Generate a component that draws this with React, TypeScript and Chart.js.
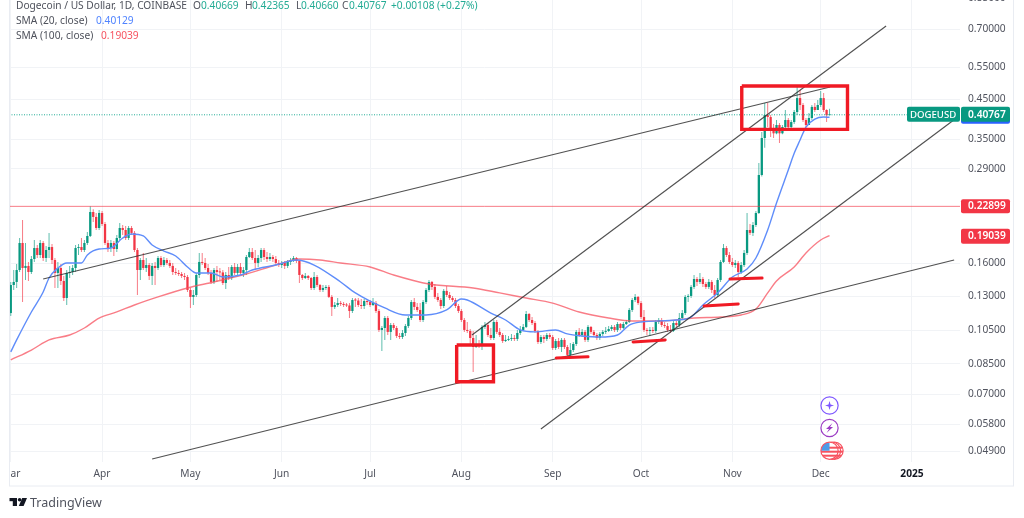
import React, { useEffect, useRef } from "react";
import { Chart, registerables } from "chart.js";

Chart.register(...registerables);

const FONT = '"Noto Sans", sans-serif';
const UP = "#089981";
const DOWN = "#f23645";
const UP_WICK = "rgba(8,153,129,0.65)";
const DOWN_WICK = "rgba(242,54,69,0.65)";

const firstOpen = 0.1169;
const closes = [
  0.1395,0.1422,0.1533,0.1818,0.1553,0.1573,0.1514,0.1643,0.1761,0.1685,
  0.1818,0.1654,0.1739,0.1772,0.1633,0.1505,0.1553,0.1431,0.1285,0.1505,
  0.1514,0.1553,0.1761,0.1772,0.1739,0.1818,0.19,0.221,0.2142,0.1998,
  0.2196,0.2049,0.1818,0.1761,0.1818,0.175,0.1876,0.1998,0.1973,0.1876,
  0.1998,0.1937,0.1739,0.1533,0.1633,0.1553,0.1582,0.1477,0.1573,0.1553,
  0.1654,0.1582,0.1633,0.1603,0.1573,0.1514,0.1505,0.1495,0.1477,0.1467,
  0.1352,0.1294,0.131,0.1486,0.1613,0.1603,0.1553,0.1505,0.1422,0.1533,
  0.1514,0.151,0.1413,0.1486,0.1458,0.1563,0.1505,0.1563,0.1505,0.1533,
  0.1664,0.1717,0.1654,0.1603,0.1654,0.1739,0.1664,0.1643,0.1664,0.1643,
  0.1603,0.1582,0.1603,0.1573,0.1613,0.1633,0.1654,0.1623,0.1486,0.1458,
  0.1477,0.1458,0.1369,0.1467,0.1395,0.1352,0.1369,0.1378,0.1294,0.1215,
  0.123,0.1245,0.1238,0.123,0.1226,0.1184,0.1269,0.1265,0.123,0.1222,
  0.1261,0.1253,0.123,0.1245,0.1184,0.1051,0.1064,0.1133,0.1038,0.1084,
  0.1064,0.1012,0.1005,0.1031,0.1077,0.1133,0.1253,0.1215,0.1192,0.1119,
  0.1253,0.1352,0.1422,0.1378,0.1294,0.1269,0.1222,0.1344,0.131,0.1285,
  0.1269,0.1222,0.1184,0.1119,0.1051,0.1044,0.0999,0.0944,0.0956,0.095,
  0.1071,0.1084,0.1018,0.0999,0.1105,0.1038,0.1018,0.098,0.0987,0.0993,
  0.0999,0.0993,0.1031,0.1051,0.1071,0.1162,0.1119,0.1098,0.1044,0.0974,
  0.1005,0.0993,0.1018,0.1005,0.0938,0.098,0.0944,0.0987,0.0944,0.0898,
  0.0926,0.0962,0.1038,0.1018,0.1038,0.0987,0.1071,0.1038,0.1018,0.0999,
  0.1025,0.1038,0.1044,0.1057,0.1071,0.1051,0.1091,0.1064,0.1091,0.1105,
  0.1192,0.1269,0.1294,0.1245,0.114,0.1051,0.1044,0.1051,0.1044,0.1105,
  0.1119,0.1084,0.1077,0.1051,0.1044,0.1098,0.1084,0.1133,0.1169,0.1294,
  0.1302,0.1378,0.1449,0.1422,0.1449,0.1404,0.1378,0.1422,0.1352,0.131,
  0.144,0.1613,0.1761,0.1685,0.1613,0.1582,0.1603,0.1514,0.1582,0.1707,
  0.1973,0.1937,0.2036,0.2196,0.279,0.3522,0.4071,0.402,0.3704,0.3628,
  0.3823,0.3628,0.3775,0.3945,0.3775,0.3895,0.415,0.453,0.4337,0.3945,
  0.3823,0.3995,0.4285,0.4202,0.4337,0.453,0.4202,0.40669,0.40767,
];
const highs = [
  0.1422,0.1533,0.1593,0.1876,0.2101,0.1818,0.1613,0.1675,0.1852,0.1795,
  0.1852,0.1841,0.1784,0.1937,0.1806,0.1654,0.1613,0.1593,0.1477,0.1533,
  0.1573,0.1582,0.1795,0.1806,0.1876,0.1852,0.1949,0.229,0.225,0.2196,
  0.2238,0.2224,0.2075,0.1852,0.1852,0.1841,0.1912,0.2062,0.2036,0.2023,
  0.2023,0.2023,0.1961,0.1761,0.1654,0.1707,0.1654,0.1603,0.1603,0.1613,
  0.1675,0.1675,0.1664,0.1654,0.1633,0.1603,0.1553,0.1533,0.1514,0.1505,
  0.1486,0.1369,0.1352,0.1505,0.1707,0.1707,0.1654,0.1593,0.1533,0.1553,
  0.1573,0.1553,0.1533,0.1514,0.1563,0.1582,0.1603,0.1593,0.1603,0.1563,
  0.1685,0.1761,0.1761,0.1739,0.1685,0.1761,0.1761,0.1717,0.1707,0.1685,
  0.1675,0.1633,0.1623,0.1623,0.1633,0.1654,0.1675,0.1664,0.1633,0.1495,
  0.1505,0.1486,0.1467,0.1514,0.1486,0.1404,0.1395,0.1395,0.1395,0.131,
  0.1253,0.1285,0.1261,0.1253,0.1245,0.1245,0.1285,0.1285,0.1285,0.1277,
  0.1277,0.1277,0.1269,0.1285,0.1261,0.1199,0.1077,0.1147,0.1147,0.1098,
  0.1098,0.1077,0.1031,0.1051,0.1091,0.1147,0.1269,0.1285,0.1245,0.1245,
  0.1269,0.1369,0.144,0.1431,0.1404,0.1327,0.1285,0.1361,0.1387,0.1335,
  0.1302,0.1285,0.1238,0.1199,0.1133,0.1105,0.1057,0.1044,0.1018,0.0987,
  0.1084,0.1105,0.1098,0.1064,0.1119,0.1119,0.1064,0.1031,0.1018,0.1012,
  0.1025,0.1018,0.1051,0.1077,0.1091,0.1184,0.1169,0.114,0.1112,0.1051,
  0.1018,0.1018,0.1031,0.1031,0.1018,0.0993,0.0999,0.0999,0.0999,0.0956,
  0.0968,0.0974,0.1051,0.1064,0.1057,0.1051,0.1084,0.1077,0.1051,0.1031,
  0.1038,0.1051,0.1071,0.1077,0.1084,0.1084,0.1105,0.1098,0.1105,0.1119,
  0.1207,0.1285,0.1318,0.1302,0.1261,0.1192,0.1064,0.1071,0.1071,0.1119,
  0.1133,0.1133,0.1105,0.1098,0.1084,0.1112,0.1112,0.1169,0.1192,0.131,
  0.1318,0.1395,0.1486,0.1467,0.1505,0.1467,0.1422,0.1449,0.144,0.1395,
  0.1458,0.1633,0.1806,0.1784,0.1717,0.1654,0.1633,0.1623,0.1613,0.1739,
  0.2196,0.2049,0.2075,0.2224,0.3008,0.366,0.439,0.439,0.4071,0.3847,
  0.3945,0.387,0.3823,0.4202,0.3995,0.3945,0.4202,0.4858,0.4766,0.439,
  0.3995,0.4122,0.4337,0.439,0.4475,0.474,0.468,0.4222,0.42365,
];
const lows = [
  0.1147,0.1352,0.1369,0.1514,0.1253,0.144,0.1431,0.1495,0.1613,0.1654,
  0.1654,0.1623,0.1613,0.1654,0.1593,0.1369,0.1369,0.1395,0.1261,0.123,
  0.1458,0.1486,0.1514,0.1685,0.1717,0.1717,0.1795,0.1888,0.2075,0.1973,
  0.1973,0.2023,0.1795,0.1717,0.1717,0.1675,0.1717,0.1852,0.1912,0.1852,
  0.1852,0.1912,0.1717,0.131,0.144,0.1533,0.1514,0.144,0.1395,0.1395,
  0.1533,0.1563,0.1563,0.1582,0.1553,0.1486,0.1486,0.1477,0.1458,0.144,
  0.1335,0.1207,0.123,0.1294,0.1458,0.1582,0.1533,0.1486,0.1404,0.1404,
  0.1422,0.144,0.1395,0.1361,0.144,0.144,0.1486,0.1486,0.1486,0.1467,
  0.1486,0.1654,0.1633,0.1533,0.1563,0.1613,0.1633,0.1613,0.1623,0.1613,
  0.1582,0.1563,0.1553,0.1543,0.1553,0.1582,0.1613,0.1603,0.1413,0.144,
  0.1449,0.144,0.1352,0.1352,0.1378,0.1335,0.1335,0.1352,0.1285,0.1147,
  0.1199,0.1215,0.1222,0.1215,0.1215,0.1133,0.1169,0.1215,0.1215,0.1199,
  0.1199,0.123,0.1215,0.1222,0.1169,0.1038,0.092,0.0987,0.1018,0.0987,
  0.1051,0.0999,0.0993,0.0993,0.1012,0.1064,0.1119,0.1192,0.1177,0.1105,
  0.1105,0.1238,0.1335,0.1352,0.1277,0.1253,0.1199,0.1207,0.1294,0.1269,
  0.1253,0.1207,0.1169,0.1105,0.1038,0.1031,0.0956,0.0806,0.0938,0.0938,
  0.0926,0.1057,0.1005,0.0987,0.0987,0.1025,0.1005,0.0968,0.0974,0.098,
  0.098,0.098,0.098,0.1018,0.1044,0.1064,0.1105,0.1084,0.1031,0.0962,
  0.0962,0.0968,0.098,0.0993,0.0926,0.0926,0.0932,0.0915,0.0932,0.0892,
  0.0887,0.0915,0.095,0.1005,0.1005,0.0974,0.0974,0.1025,0.1005,0.0987,
  0.0987,0.1012,0.1025,0.1038,0.1044,0.1038,0.1038,0.1051,0.1057,0.1084,
  0.1098,0.1177,0.1253,0.123,0.1126,0.1038,0.1018,0.1012,0.1031,0.1031,
  0.1091,0.1071,0.1064,0.1038,0.1031,0.1038,0.1071,0.1071,0.1119,0.1155,
  0.1253,0.1285,0.1361,0.1387,0.1404,0.1378,0.1361,0.1361,0.1327,0.1285,
  0.1294,0.1422,0.1603,0.1664,0.1593,0.1563,0.1553,0.1467,0.1495,0.1563,
  0.1685,0.1912,0.19,0.2011,0.2183,0.2762,0.331,0.3775,0.3545,0.3522,
  0.3608,0.3412,0.3608,0.373,0.3752,0.3752,0.3847,0.4071,0.4202,0.3895,
  0.3775,0.3823,0.3945,0.415,0.4202,0.4285,0.415,0.3895,0.4066,
];

const sma20Days = [0,2,7,11,13,16,19,24,26,30,34,38,41,45,48,52,56,60,63,68,72,78,82,90,97,103,112,117,127,134,141,148,153,155,163,168,173,178,185,189,194,200,206,210,214,226,231,235,240,245,250,253,257,260,264,266,268,270,273,276,278];
const sma20Values = [0.0915,0.0987,0.1177,0.1335,0.1458,0.1553,0.1603,0.1603,0.1685,0.175,0.1761,0.1876,0.1924,0.19,0.1795,0.1728,0.1675,0.1563,0.1505,0.1505,0.1467,0.1486,0.1533,0.1582,0.1633,0.1582,0.1422,0.1327,0.1207,0.1155,0.1155,0.1192,0.1277,0.1269,0.1169,0.1119,0.1051,0.1038,0.1051,0.1025,0.1012,0.1005,0.1018,0.1084,0.1105,0.1119,0.114,0.123,0.1327,0.1467,0.1543,0.1654,0.1973,0.2339,0.2879,0.3198,0.3478,0.3775,0.397,0.402,0.40129];
const sma100Days = [0,7,13,20,25,30,36,42,50,60,69,80,90,98,105,112,122,130,142,157,166,175,184,193,203,211,221,232,241,248,253,257,260,266,270,275,278];
const sma100Values = [0.087,0.0926,0.0987,0.1018,0.1064,0.1133,0.1177,0.123,0.1294,0.1369,0.1422,0.1495,0.1582,0.1643,0.1633,0.1603,0.1563,0.1486,0.1404,0.1369,0.1327,0.1285,0.1245,0.1177,0.1133,0.1112,0.1112,0.1133,0.114,0.1155,0.1199,0.1327,0.1431,0.1563,0.1707,0.1852,0.19039];

const trendLines = [
  { days: [11, 278.2], prices: [0.1449, 0.4858] },
  { days: [156.6, 297.2], prices: [0.1018, 0.7134] },
  { days: [180, 322], prices: [0.0563, 0.4046] },
  { days: [48, 320.3], prices: [0.0466, 0.1633] },
];
const markBoxes = [
  { days: [151.4, 163.9], prices: [0.0956, 0.0758] },
  { days: [248.2, 284.1], prices: [0.4887, 0.372] },
];
const markDashes = [
  { days: [185.2, 196], prices: [0.0881, 0.0887] },
  { days: [211.3, 222.2], prices: [0.0974, 0.0987] },
  { days: [235.4, 247], prices: [0.1222, 0.1238] },
  { days: [244.2, 255.1], prices: [0.1449, 0.1458] },
];

const priceTicks = [0.7, 0.55, 0.45, 0.35, 0.29, 0.16, 0.13, 0.105, 0.085, 0.07, 0.058, 0.049];
const clippedTick = 0.85;
const monthDays = [0, 31, 61, 92, 122, 153, 184, 214, 245, 275, 306];
const monthLabels = ["Mar", "Apr", "May", "Jun", "Jul", "Aug", "Sep", "Oct", "Nov", "Dec", "2025"];
const lastPrice = 0.40767;
const sma20Last = 0.40129;
const sma100Last = 0.19039;
const levelPrice = 0.22899;
const DAY_MIN = -0.6;
const DAY_MAX = 322.3;

const opens = closes.map((_, i) => (i === 0 ? firstOpen : closes[i - 1]));
const isUp = closes.map((c, i) => c >= opens[i]);

const pairLine = (days: number[], prices: number[]) => days.map((d, i) => ({ x: d, y: prices[i] }));
const lineDs = (data: any[], color: string, width: number, order: number, extra: any = {}) => ({
  type: "line" as const,
  data,
  borderColor: color,
  borderWidth: width,
  pointRadius: 0,
  tension: 0,
  order,
  ...extra,
});

const overlay = {
  id: "overlay",
  beforeDraw(chart: any) {
    const c = chart.ctx;
    c.save();
    c.fillStyle = "#fff";
    c.fillRect(0, 0, 1024, 518);
    c.restore();
  },
  afterDraw(chart: any) {
    const c = chart.ctx as CanvasRenderingContext2D;
    const yS = chart.scales.y;
    const xS = chart.scales.x;
    c.save();
    // hide the part of the first month label left of the frame
    c.fillStyle = "#fff";
    c.fillRect(0, 463, 9, 22);
    // frame
    c.strokeStyle = "#e9ecf2";
    c.lineWidth = 1;
    c.strokeRect(9.5, -2, 1004, 488);

    c.textBaseline = "middle";
    const text = (s: string, x: number, y: number, color: string, font = `10.2px ${FONT}`) => {
      c.font = font;
      c.fillStyle = color;
      c.fillText(s, x, y);
    };
    // legend
    const gray = "#4f525c";
    const green = "#22ab94";
    text("Dogecoin / US Dollar, 1D, COINBASE", 16, 6, gray);
    text("O", 193, 6, gray); text("0.40669", 201, 6, green);
    text("H", 245, 6, gray); text("0.42365", 252, 6, green);
    text("L", 296, 6, gray); text("0.40660", 301, 6, green);
    text("C", 342, 6, gray); text("0.40767", 349, 6, green);
    text("+0.00108", 391, 6, green);
    text("(+0.27%)", 437, 6, green);
    text("SMA (20, close)", 16, 21, gray); text(sma20Last.toFixed(5), 96, 21, "#4f83ff");
    text("SMA (100, close)", 16, 36, gray); text(sma100Last.toFixed(5), 101, 36, "#f7525f");

    // clipped top tick
    text(clippedTick.toFixed(5), 968, yS.getPixelForValue(clippedTick), "#50535e");

    // price labels
    const box = (x: number, y: number, w: number, h: number, color: string) => {
      c.fillStyle = color;
      c.beginPath();
      (c as any).roundRect(x, y, w, h, 2);
      c.fill();
    };
    const yLast = yS.getPixelForValue(lastPrice);
    box(961, yLast - 5, 49, 14, "#2962ff");
    box(961, yLast - 8, 49, 15, UP);
    box(907, yLast - 8, 53, 15, UP);
    text("DOGEUSD", 910, yLast, "#fff", `500 9.6px ${FONT}`);
    text(lastPrice.toFixed(5), 968, yLast, "#fff", `600 10.2px ${FONT}`);
    const yLevel = yS.getPixelForValue(levelPrice);
    box(961, yLevel - 7, 49, 14, DOWN);
    text(levelPrice.toFixed(5), 968, yLevel, "#fff", `600 10.2px ${FONT}`);
    const ySma = yS.getPixelForValue(sma100Last);
    box(961, ySma - 7, 49, 15, DOWN);
    text(sma100Last.toFixed(5), 968, ySma, "#fff", `600 10.2px ${FONT}`);

    // event icons
    const ix = xS.getPixelForValue(278);
    c.lineWidth = 1.2;
    c.fillStyle = "#fff";
    c.strokeStyle = "#7e57ff";
    c.beginPath(); c.arc(ix, 405.5, 8.6, 0, Math.PI * 2); c.fill(); c.stroke();
    c.fillStyle = "#7e57ff";
    c.beginPath();
    c.moveTo(ix, 401); c.lineTo(ix + 1, 404.5); c.lineTo(ix + 4.5, 405.5); c.lineTo(ix + 1, 406.5);
    c.lineTo(ix, 410); c.lineTo(ix - 1, 406.5); c.lineTo(ix - 4.5, 405.5); c.lineTo(ix - 1, 404.5);
    c.closePath(); c.fill();
    c.fillStyle = "#fff";
    c.strokeStyle = "#9c3cc4";
    c.beginPath(); c.arc(ix, 428, 8.6, 0, Math.PI * 2); c.fill(); c.stroke();
    c.fillStyle = "#9c3cc4";
    c.beginPath();
    c.moveTo(ix + 3, 423); c.lineTo(ix - 3.5, 429); c.lineTo(ix - 0.5, 429); c.lineTo(ix - 3, 433);
    c.lineTo(ix + 3.5, 427); c.lineTo(ix + 0.5, 427); c.closePath(); c.fill();
    const flag = (cx: number) => {
      const cy = 450.7;
      c.save();
      c.beginPath(); c.arc(cx, cy, 8.6, 0, Math.PI * 2); c.fillStyle = "#fff"; c.fill();
      c.clip();
      c.fillStyle = "#f7525f";
      c.fillRect(cx - 9, cy - 4, 18, 2);
      c.fillRect(cx - 9, cy, 18, 2);
      c.fillRect(cx - 9, cy + 4, 18, 2);
      c.fillStyle = "#4c9be8";
      c.fillRect(cx - 9, cy - 8, 9, 8);
      c.restore();
      c.strokeStyle = "#f7525f";
      c.beginPath(); c.arc(cx, cy, 8.6, 0, Math.PI * 2); c.stroke();
    };
    flag(ix + 5); flag(ix + 2.5); flag(ix);

    // brand
    c.fillStyle = "#131722";
    c.fillRect(9.5, 498, 7.5, 3.2);
    c.fillRect(12.8, 498, 4.2, 8);
    c.beginPath(); c.arc(19.6, 499.8, 1.8, 0, Math.PI * 2); c.fill();
    c.beginPath(); c.moveTo(22.2, 498); c.lineTo(27, 498); c.lineTo(23.6, 506); c.lineTo(18.8, 506); c.closePath(); c.fill();
    text("TradingView", 30, 503, "#50535e", `12.5px ${FONT}`);
    c.restore();
  },
};

export default function App() {
  const ref = useRef<HTMLCanvasElement>(null);
  useEffect(() => {
    if (!ref.current) return;
    const days = closes.map((_, i) => i);
    const chart = new Chart(ref.current, {
      type: "bar",
      data: {
        datasets: [
          {
            label: "wick",
            data: days.map((d) => ({ x: d, y: [lows[d], highs[d]] })),
            backgroundColor: days.map((d) => (isUp[d] ? UP_WICK : DOWN_WICK)),
            barThickness: 1,
            grouped: false,
            inflateAmount: 0,
            order: 9,
          },
          {
            label: "body",
            data: days.map((d) => ({ x: d, y: [opens[d], closes[d]] })),
            backgroundColor: days.map((d) => (isUp[d] ? UP : DOWN)),
            barThickness: 2.3,
            minBarLength: 1,
            grouped: false,
            inflateAmount: 0,
            order: 8,
          },
          lineDs([{ x: DAY_MIN, y: lastPrice }, { x: DAY_MAX, y: lastPrice }], "#22ab94", 1, 7, { borderDash: [1, 1.5] }),
          lineDs([{ x: DAY_MIN, y: levelPrice }, { x: DAY_MAX, y: levelPrice }], "rgba(242,54,69,0.65)", 1, 6),
          lineDs(pairLine(sma100Days, sma100Values), "rgba(247,82,95,0.75)", 1.4, 5, { cubicInterpolationMode: "monotone" }),
          lineDs(pairLine(sma20Days, sma20Values), "#5f8dfa", 1.4, 4, { cubicInterpolationMode: "monotone" }),
          ...trendLines.map((t) => lineDs(pairLine(t.days, t.prices), "rgba(50,50,50,0.85)", 1.15, 3)),
          ...markBoxes.map((b) =>
            lineDs(
              [
                { x: b.days[0], y: b.prices[0] },
                { x: b.days[1], y: b.prices[0] },
                { x: b.days[1], y: b.prices[1] },
                { x: b.days[0], y: b.prices[1] },
                { x: b.days[0], y: b.prices[0] },
              ],
              "#f01a24",
              3.4,
              2,
              { borderJoinStyle: "miter" }
            )
          ),
          ...markDashes.map((m) =>
            lineDs(pairLine(m.days, m.prices), "#f01a24", 3, 1, { borderCapStyle: "round" })
          ),
        ] as any,
      },
      options: {
        responsive: false,
        animation: false,
        devicePixelRatio: 1,
        layout: { padding: { left: 9, right: 10, top: 0, bottom: 32 } },
        plugins: { legend: { display: false }, tooltip: { enabled: false } },
        events: [],
        scales: {
          x: {
            type: "linear",
            min: DAY_MIN,
            max: DAY_MAX,
            offset: false,
            border: { display: false },
            grid: { color: "#f1f3f6", offset: false, drawTicks: false },
            afterBuildTicks: (s: any) => {
              s.ticks = monthDays.map((v) => ({ value: v }));
            },
            afterFit: (s: any) => {
              s.height = 24;
              s.paddingLeft = 0;
              s.paddingRight = 0;
            },
            ticks: {
              autoSkip: false,
              maxRotation: 0,
              padding: 6,
              color: (ctx: any) => (ctx.tick?.value === 306 ? "#131722" : "#50535e"),
              font: (ctx: any) =>
                ctx.tick?.value === 306
                  ? { family: FONT, size: 10.2, weight: "bold" }
                  : { family: FONT, size: 10.2 },
              callback: (v: any) => monthLabels[monthDays.indexOf(Number(v))] ?? "",
            },
          },
          y: {
            type: "logarithmic",
            position: "right",
            min: 0.04573,
            max: 0.8404,
            bounds: "data",
            border: { display: false },
            grid: { color: "#f1f3f6", drawTicks: false },
            afterBuildTicks: (s: any) => {
              s.ticks = priceTicks.map((v) => ({ value: v }));
            },
            afterFit: (s: any) => {
              s.width = 54;
              s.paddingTop = 0;
              s.paddingBottom = 0;
            },
            ticks: {
              autoSkip: false,
              padding: 8,
              color: "#50535e",
              font: { family: FONT, size: 10.2 },
              callback: (v: any) => Number(v).toFixed(5),
            },
          },
        },
      } as any,
      plugins: [overlay],
    });
    return () => chart.destroy();
  }, []);
  return (
    <canvas
      ref={ref}
      width={1024}
      height={518}
      style={{ position: "fixed", left: 0, top: 0, display: "block" }}
    />
  );
}
